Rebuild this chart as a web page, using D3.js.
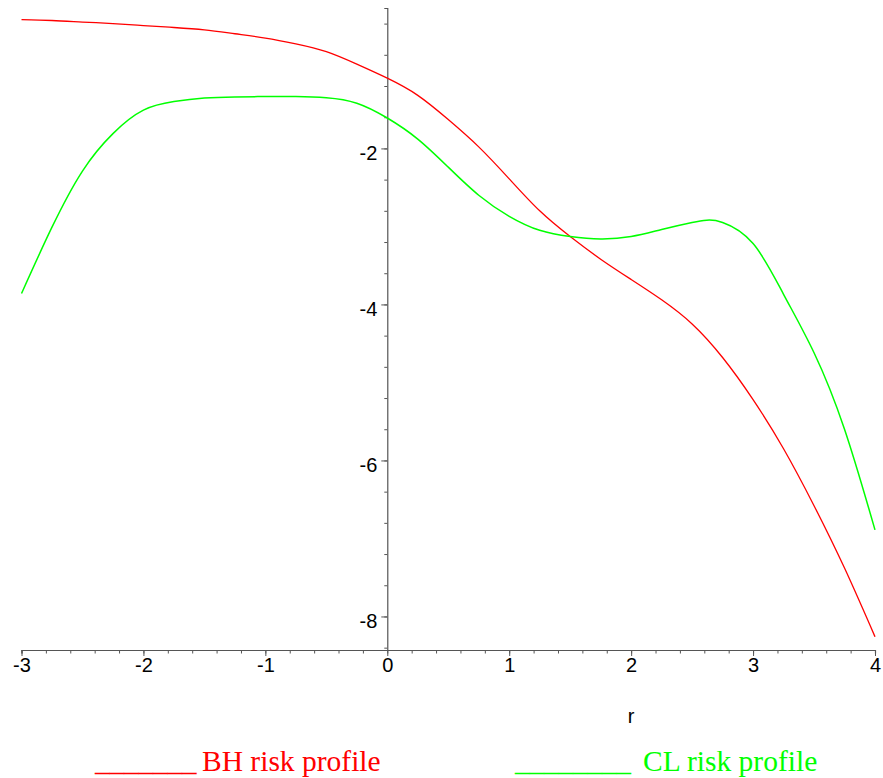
<!DOCTYPE html>
<html>
<head>
<meta charset="utf-8">
<script src="https://cdn.jsdelivr.net/npm/d3@7"></script>
<style>
  html, body { margin: 0; padding: 0; background: #fff; }
  svg { display: block; }
</style>
</head>
<body>
<svg id="chart" width="883" height="778"></svg>
<script>
// Sample points of the two risk profiles over r
const rValues = [-3, -2.75, -2.5, -2.25, -2, -1.75, -1.5, -1.25, -1, -0.75, -0.5, -0.25,
                 0, 0.25, 0.5, 0.75, 1, 1.25, 1.5, 1.75, 2, 2.25, 2.5, 2.75, 3, 3.25, 3.5, 3.75, 4];
const bhRisk = [-0.35, -0.36, -0.38, -0.40, -0.425, -0.45, -0.48, -0.53, -0.585, -0.66, -0.76, -0.92,
                -1.10, -1.32, -1.63, -1.98, -2.39, -2.80, -3.13, -3.42, -3.68, -3.94, -4.25, -4.68,
                -5.22, -5.85, -6.58, -7.38, -8.26];
const clR = [-3, -2.75, -2.5, -2.25, -2, -1.75, -1.5, -1.25, -1, -0.75, -0.5, -0.25,
             0, 0.25, 0.5, 0.75, 1, 1.25, 1.5, 1.75, 2, 2.25, 2.5, 2.62, 2.75, 3, 3.25, 3.5, 3.75, 4];
const clRisk = [-3.86, -3.01, -2.29, -1.81, -1.51, -1.40, -1.355, -1.34, -1.335, -1.335, -1.35, -1.42,
                -1.61, -1.88, -2.24, -2.60, -2.87, -3.05, -3.13, -3.16, -3.13, -3.04, -2.95, -2.92,
                -2.95, -3.22, -3.87, -4.62, -5.60, -6.89];

const xTicks = [-3, -2, -1, 0, 1, 2, 3, 4];
const yTicks = [-2, -4, -6, -8];
const legendLabels = ["BH risk profile", "CL risk profile"];
const axisTitle = "r";

const svg = d3.select("#chart");
const x = d3.scaleLinear().domain([-3, 4]).range([21.5, 875]);
const y = d3.scaleLinear().domain([-8.43, -0.2]).range([650, 8]);

const axisColor = "#555";
const labelFont = "'Liberation Sans', Arial, Helvetica, sans-serif";
const plainNumber = d => String(d);

// Horizontal axis at the bottom of the value range
svg.append("g").attr("transform", `translate(0,${y(-8.43)})`)
  .call(d3.axisBottom(x).tickValues(d3.range(-3, 4.0001, 0.2)).tickSize(3.5).tickFormat(""))
  .call(g => g.select(".domain").attr("stroke", axisColor).attr("stroke-width", 1.2))
  .call(g => g.selectAll(".tick line").attr("stroke", axisColor));
svg.append("g").attr("transform", `translate(0,${y(-8.43)})`)
  .call(d3.axisBottom(x).tickValues(xTicks).tickSize(6).tickFormat(plainNumber))
  .call(g => g.select(".domain").remove())
  .call(g => g.selectAll(".tick line").attr("stroke", axisColor))
  .call(g => g.selectAll(".tick text")
    .attr("y", 7).attr("dy", "0.75em")
    .attr("fill", "#000").attr("font-family", labelFont).attr("font-size", 20));

// Vertical axis through r = 0
svg.append("g").attr("transform", `translate(${x(0)},0)`)
  .call(d3.axisLeft(y).tickValues(d3.range(-8.4, -0.39, 0.4)).tickSize(3).tickFormat(""))
  .call(g => g.select(".domain").attr("stroke", axisColor).attr("stroke-width", 1.2))
  .call(g => g.selectAll(".tick line").attr("stroke", axisColor));
svg.append("g").attr("transform", `translate(${x(0)},0)`)
  .call(d3.axisLeft(y).tickValues(yTicks).tickSize(6).tickFormat(plainNumber))
  .call(g => g.select(".domain").remove())
  .call(g => g.selectAll(".tick line").attr("stroke", axisColor))
  .call(g => g.selectAll(".tick text")
    .attr("x", -10).attr("dy", "0.55em")
    .attr("fill", "#000").attr("font-family", labelFont).attr("font-size", 20));

svg.append("text")
  .attr("x", x(2)).attr("y", 723)
  .attr("text-anchor", "middle")
  .attr("font-family", labelFont).attr("font-size", 20)
  .text(axisTitle);

// Curves
const line = d3.line()
  .x(d => x(d[0]))
  .y(d => y(d[1]))
  .curve(d3.curveNatural);

svg.append("path")
  .datum(d3.zip(rValues, bhRisk))
  .attr("fill", "none").attr("stroke", "#ff0000").attr("stroke-width", 1.3)
  .attr("d", line);
svg.append("path")
  .datum(d3.zip(clR, clRisk))
  .attr("fill", "none").attr("stroke", "#00ff00").attr("stroke-width", 1.5)
  .attr("d", line);

// Legend entries: an underscore rule followed by the series name
const serif = "'Liberation Serif', 'Times New Roman', Times, serif";
const legend = [
  { rule: "_______", ruleX: 95, textX: 202, color: "#ff0000", label: legendLabels[0] },
  { rule: "________", ruleX: 515, textX: 643, color: "#00ff00", label: legendLabels[1] }
];
legend.forEach(e => {
  svg.append("text")
    .attr("x", e.ruleX).attr("y", 771)
    .attr("fill", e.color).attr("font-family", serif).attr("font-size", 29)
    .text(e.rule);
  svg.append("text")
    .attr("x", e.textX).attr("y", 771)
    .attr("fill", e.color).attr("font-family", serif).attr("font-size", 29.5)
    .text(e.label);
});
</script>
</body>
</html>
